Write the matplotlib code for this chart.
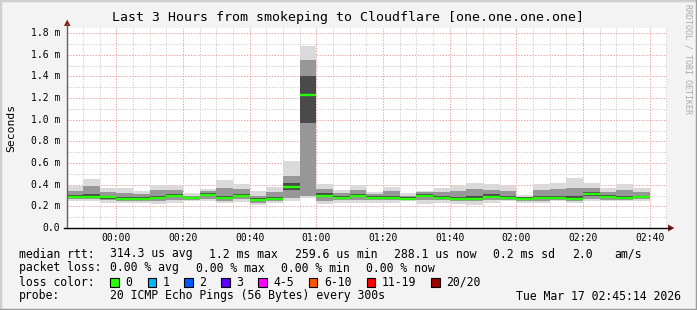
import matplotlib
matplotlib.use("Agg")
import matplotlib.pyplot as plt
from matplotlib.lines import Line2D
from matplotlib.patches import Polygon, Rectangle

# 5-minute steps, minutes relative to 00:00 (Mar 17); first step starts 23:45
step_start = list(range(-15, 160, 5))

# median rtt per step (ms)
median = [0.286, 0.287, 0.283, 0.268, 0.271, 0.277, 0.295, 0.277, 0.305, 0.277,
          0.295, 0.260, 0.271, 0.378, 1.228, 0.295, 0.277, 0.292, 0.280, 0.280,
          0.271, 0.298, 0.280, 0.268, 0.271, 0.289, 0.280, 0.271, 0.277, 0.280,
          0.268, 0.311, 0.289, 0.280, 0.288]

# smoke: outer (lightest), middle and core (darkest) bands, in ms
smoke_lo = [0.250, 0.250, 0.235, 0.228, 0.228, 0.220, 0.228, 0.245, 0.250, 0.228,
            0.240, 0.210, 0.228, 0.245, 0.277, 0.220, 0.235, 0.234, 0.228, 0.228,
            0.245, 0.220, 0.228, 0.225, 0.215, 0.228, 0.245, 0.228, 0.228, 0.245,
            0.228, 0.245, 0.245, 0.245, 0.250]
smoke_hi = [0.390, 0.450, 0.366, 0.370, 0.345, 0.397, 0.390, 0.320, 0.360, 0.445,
            0.410, 0.340, 0.380, 0.618, 1.680, 0.406, 0.351, 0.397, 0.328, 0.381,
            0.320, 0.340, 0.370, 0.390, 0.420, 0.410, 0.390, 0.305, 0.410, 0.420,
            0.460, 0.420, 0.370, 0.410, 0.370]
mid_lo = [0.265, 0.265, 0.255, 0.245, 0.250, 0.245, 0.255, 0.260, 0.270, 0.250,
          0.265, 0.230, 0.250, 0.280, 0.300, 0.250, 0.255, 0.255, 0.255, 0.255,
          0.255, 0.255, 0.255, 0.250, 0.245, 0.260, 0.260, 0.250, 0.250, 0.260,
          0.250, 0.270, 0.260, 0.260, 0.265]
mid_hi = [0.340, 0.390, 0.330, 0.320, 0.310, 0.350, 0.350, 0.300, 0.340, 0.370,
          0.360, 0.300, 0.330, 0.480, 1.550, 0.360, 0.320, 0.350, 0.310, 0.340,
          0.300, 0.330, 0.330, 0.340, 0.360, 0.350, 0.340, 0.290, 0.350, 0.360,
          0.370, 0.370, 0.330, 0.350, 0.330]
core_lo = [0.276, 0.277, 0.272, 0.258, 0.262, 0.267, 0.284, 0.268, 0.293, 0.266,
           0.284, 0.250, 0.262, 0.350, 0.970, 0.284, 0.268, 0.282, 0.270, 0.270,
           0.262, 0.288, 0.270, 0.258, 0.262, 0.279, 0.270, 0.262, 0.267, 0.270,
           0.258, 0.300, 0.279, 0.270, 0.279]
core_hi = [0.305, 0.310, 0.300, 0.285, 0.285, 0.300, 0.315, 0.290, 0.320, 0.300,
           0.315, 0.275, 0.290, 0.420, 1.400, 0.320, 0.295, 0.310, 0.295, 0.300,
           0.285, 0.310, 0.300, 0.290, 0.300, 0.310, 0.300, 0.285, 0.300, 0.300,
           0.300, 0.330, 0.305, 0.300, 0.300]

time_labels = ["00:00", "00:20", "00:40", "01:00", "01:20", "01:40", "02:00", "02:20", "02:40"]
time_ticks = [0, 20, 40, 60, 80, 100, 120, 140, 160]
y_ticks = [0.0, 0.2, 0.4, 0.6, 0.8, 1.0, 1.2, 1.4, 1.6, 1.8]

loss_labels = ["0", "1", "2", "3", "4-5", "6-10", "11-19", "20/20"]
loss_colors = ["#26ff00", "#00b8ff", "#0059ff", "#5e00ff", "#ff00ff", "#ff5500", "#ff0000", "#a10000"]

W, H = 697, 310
MONO = "DejaVu Sans Mono"


def fx(x):
    return x / W


def fy(y):
    return 1 - y / H


fig = plt.figure(figsize=(W / 100, H / 100), dpi=100, facecolor="#f3f3f3")

# plot area: 600x200 px, left 67, bottom 228
ax = fig.add_axes([fx(67), fy(228), 600 / W, 200 / H])
ax.set_facecolor("white")
ax.set_xlim(-14.77, 165.23)
ax.set_ylim(0, 200 / 108.33)
for s in ax.spines.values():
    s.set_visible(False)
ax.set_xticks([])
ax.set_yticks([])

dots = (0, (1.4, 1.4))
# minor grid
for v in range(1, 19, 2):
    ax.axhline(v / 10, color="#d0d0d0", lw=0.72, ls=dots, zorder=1)
for t in range(-10, 166, 5):
    if t % 20:
        ax.axvline(t, color="#d0d0d0", lw=0.72, ls=dots, zorder=1)
# major grid
for v in y_ticks[1:]:
    ax.axhline(v, color="#eca8a8", lw=0.72, ls=dots, zorder=2)
for t in time_ticks:
    ax.axvline(t, color="#eca8a8", lw=0.72, ls=dots, zorder=2)

# smoke
ax.bar(step_start, [h - l for l, h in zip(smoke_lo, smoke_hi)], bottom=smoke_lo,
       width=5, align="edge", color="#dadada", lw=0, zorder=3)
ax.bar(step_start, [h - l for l, h in zip(mid_lo, mid_hi)], bottom=mid_lo,
       width=5, align="edge", color="#979797", lw=0, zorder=4)
ax.bar(step_start, [h - l for l, h in zip(core_lo, core_hi)], bottom=core_lo,
       width=5, align="edge", color="#4a4a4a", lw=0, zorder=5)

# median, coloured by loss (all 0 %)
ax.hlines(median, step_start, [s + 5 for s in step_start], color=loss_colors[0],
          lw=1.7, capstyle="butt", zorder=6)

# axes lines and arrows
fig.add_artist(Line2D([fx(67), fx(67)], [fy(228), fy(24)], color="#606060", lw=1))
fig.add_artist(Line2D([fx(64), fx(670)], [fy(228), fy(228)], color="black", lw=1))
fig.add_artist(Polygon([(fx(64), fy(26)), (fx(70.5), fy(26)), (fx(67.2), fy(19.5))],
                       closed=True, color="#8b1a1a", lw=0))
fig.add_artist(Polygon([(fx(668), fy(224.5)), (fx(668), fy(231.5)), (fx(674.5), fy(228))],
                       closed=True, color="#8b1a1a", lw=0))

# tick labels
for v in y_ticks:
    lab = "0.0" if v == 0 else "%.1f m" % v
    fig.text(fx(60), fy(228 - v * 108.33), lab, ha="right", va="center",
             fontsize=7, family=MONO)
for t, lab in zip(time_ticks, time_labels):
    fig.text(fx(67 + (t + 14.77) * 600 / 180), fy(238), lab, ha="center", va="center",
             fontsize=7, family=MONO)

fig.text(fx(348), fy(18), "Last 3 Hours from smokeping to Cloudflare [one.one.one.one]",
         ha="center", va="center", fontsize=9.5, family=MONO)
fig.text(fx(11), fy(128), "Seconds", rotation=90, ha="center", va="center",
         fontsize=8.2, family=MONO)
fig.text(fx(688), fy(4), "RRDTOOL / TOBI OETIKER", rotation=270, ha="center", va="top",
         fontsize=6, family=MONO, color="#a8a8a8")

# legend block
leg = dict(fontsize=8.3, family=MONO, va="center", ha="left")
row1 = [(18.6, "median rtt:"), (109.8, "314.3 us avg"), (209, "1.2 ms max"),
        (295, "259.6 us min"), (394.5, "288.1 us now"), (493, "0.2 ms sd"),
        (572, "2.0"), (614, "am/s")]
row2 = [(18.6, "packet loss:"), (109.8, "0.00 % avg"), (196.2, "0.00 % max"),
        (280.7, "0.00 % min"), (365.7, "0.00 % now")]
for x, s in row1:
    fig.text(fx(x), fy(254), s, **leg)
for x, s in row2:
    fig.text(fx(x), fy(268), s, **leg)

fig.text(fx(18.6), fy(282), "loss color:", **leg)
box_x = [110.3, 147.5, 184.2, 221.4, 258.1, 309.0, 366.6, 431.2]
for bx, lab, col in zip(box_x, loss_labels, loss_colors):
    fig.add_artist(Rectangle((fx(bx), fy(286.5)), 8.4 / W, 8.4 / H,
                             facecolor=col, edgecolor="black", lw=0.8))
    fig.text(fx(bx + 15), fy(282), lab, **leg)

fig.text(fx(18.6), fy(296), "probe:", **leg)
fig.text(fx(109.8), fy(296), "20 ICMP Echo Pings (56 Bytes) every 300s", **leg)
fig.text(fx(681), fy(296), "Tue Mar 17 02:45:14 2026", fontsize=8.3, family=MONO,
         va="center", ha="right")

# frame around the image
fig.add_artist(Line2D([0, 0, 1], [0, 1, 1], color="#cfcfcf", lw=2.5))
fig.add_artist(Line2D([0, 1, 1], [0, 0, 1], color="#9c9c9c", lw=2.5))

fig.savefig("out.png", dpi=100, facecolor=fig.get_facecolor())
